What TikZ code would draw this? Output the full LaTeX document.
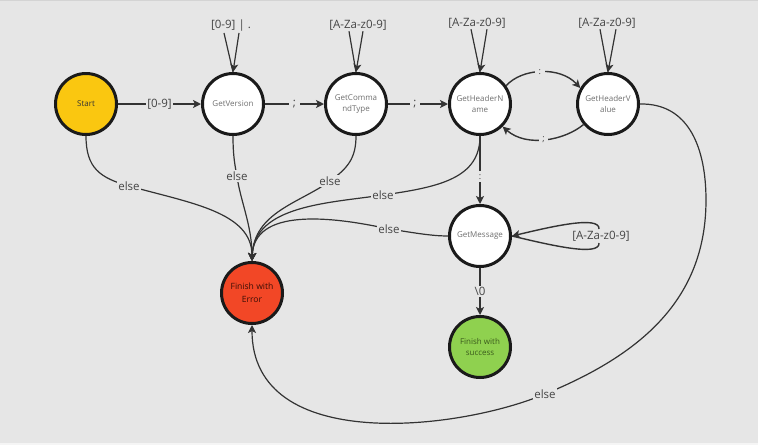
\documentclass[tikz,border=0pt]{standalone}
\usepackage{fontspec}
\setmainfont{Open Sans}
\usetikzlibrary{arrows.meta}
\definecolor{bg}{HTML}{E6E6E6}
\definecolor{edge}{HTML}{333333}
\definecolor{ring}{HTML}{1A1A1A}
\definecolor{yel}{HTML}{FAC710}
\definecolor{redf}{HTML}{F24726}
\definecolor{grn}{HTML}{8FD14F}
\definecolor{ntext}{HTML}{707070}
\definecolor{ltext}{HTML}{454545}
\definecolor{gtext}{HTML}{3A5A1C}
\definecolor{rtext}{HTML}{3A0E06}
\tikzset{
  state/.style={circle,draw=ring,line width=3pt,fill=white,minimum size=61pt,inner sep=0pt,
    align=center,font=\fontsize{8}{11.5}\selectfont,text=ntext},
  bigstate/.style={state,font=\fontsize{8.6}{12.5}\selectfont},
  lbl/.style={fill=bg,inner sep=1.5pt,font=\fontsize{11.5}{13}\selectfont,text=ltext},
  punct/.style={lbl,inner xsep=3.5pt,inner ysep=3pt},
  toplbl/.style={inner sep=1pt,font=\fontsize{11.5}{13}\selectfont,text=ltext},
  tip/.style={-{Stealth[length=8pt,width=8pt,inset=2pt]}},
  mainarr/.style={draw=edge,line width=1.7pt,tip},
  thin/.style={draw=edge,line width=1.2pt},
  thinarr/.style={thin,tip},
}
\begin{document}
\begin{tikzpicture}[x=1pt,y=-1pt]
\fill[bg] (0,0) rectangle (758,445);
\useasboundingbox (0,0) rectangle (758,445);
\fill[black!17] (0,0) rectangle (758,1.2);
\fill[black!4] (0,443) rectangle (758,445);

% states
\node[state,fill=yel,text=black!80] (start) at (86,104) {Start};
\node[state] (gv) at (233,104) {GetVersion};
\node[state] (gct) at (356,104) {GetComma\\ndType};
\node[state] (ghn) at (480,104) {GetHeaderN\\ame};
\node[state] (ghv) at (608,104) {GetHeaderV\\alue};
\node[state] (gm) at (480,236) {GetMessage};
\node[bigstate,fill=redf,text=rtext] (err) at (252,293) {Finish with\\Error};
\node[state,fill=grn,text=gtext] (succ) at (480,347) {Finish with\\success};

% self-loop labels at top
\node[toplbl] (lv) at (231,26) {[0-9] | .};
\node[toplbl] (lc) at (358,25) {[A-Za-z0-9]};
\node[toplbl] (ln) at (477,23) {[A-Za-z0-9]};
\node[toplbl] (lhv) at (607,23) {[A-Za-z0-9]};

\draw[thin] ([xshift=-7pt]lv.south) -- (gv.north);
\draw[thinarr] ([xshift=8pt]lv.south) -- (gv.north);
\draw[thin] ([xshift=-9pt]lc.south) -- (gct.north);
\draw[thinarr] ([xshift=5pt]lc.south) -- (gct.north);
\draw[thin] ([xshift=-6pt]ln.south) -- (ghn.north);
\draw[thinarr] ([xshift=10pt]ln.south) -- (ghn.north);
\draw[thin] ([xshift=-7pt]lhv.south) -- (ghv.north);
\draw[thinarr] ([xshift=9pt]lhv.south) -- (ghv.north);

% main transitions
\draw[mainarr] (start) -- node[lbl]{[0-9]} (gv);
\draw[mainarr] (gv) -- node[punct]{;} (gct);
\draw[mainarr] (gct) -- node[punct,pos=0.45]{;} (ghn);
\draw[mainarr] (ghn) -- node[punct,pos=0.6,font=\fontsize{9}{10}\selectfont]{:} (gm);
\draw[mainarr] (gm) -- node[lbl]{\textbackslash 0} (succ);

\draw[thinarr,line width=1.4pt] (ghn.35) .. controls (522,68) and (560,66) .. node[punct,pos=0.48,font=\fontsize{9}{10}\selectfont]{:} (ghv.150);
\draw[thinarr,line width=1.4pt] (ghv.220) .. controls (565,140) and (527,148) .. node[punct,pos=0.52,font=\fontsize{9}{10}\selectfont]{;} (ghn.-45);

% GetMessage self loop
\coordinate (lmb) at (599,243);
\coordinate (lmt) at (599,229);
\draw[thin,line width=1.4pt] (gm.east) .. controls (550,245) and (600,257) .. (lmb);
\draw[thinarr,line width=1.4pt] (lmt) .. controls (600,215) and (550,227) .. (gm.east);
\node[toplbl,fill=bg] (lm) at (601,236) {[A-Za-z0-9]};

% else transitions
\coordinate (e1) at (129,186);
\coordinate (e2) at (237,176);
\coordinate (e3) at (330,181);
\coordinate (e4) at (383,195);
\coordinate (e5) at (389,229);
\coordinate (e6) at (545,394);
\coordinate (gvr) at (706,200);

\draw[thinarr] (start.south) .. controls (86,168) and (100,178) .. (e1)
  .. controls (190,203) and (252,212) .. (err.north);
\draw[thinarr] (gv.south) .. controls (233,156) and (235,166) .. (e2)
  .. controls (240,200) and (252,225) .. (err.north);
\draw[thinarr] (gct.south) .. controls (356,158) and (348,168) .. (e3)
  .. controls (300,203) and (254,212) .. (err.north);
\draw[thinarr] (ghn.south) .. controls (480,178) and (440,187) .. (e4)
  .. controls (330,203) and (254,205) .. (err.north);
\draw[thinarr] (gm.west) .. controls (430,236) and (410,232) .. (e5)
  .. controls (330,216) and (254,208) .. (err.north);
\draw[thinarr] (ghv.east) .. controls (690,103) and (706,150) .. (gvr)
  .. controls (706,300) and (640,355) .. (e6)
  .. controls (460,430) and (252,455) .. (err.south);

\node[lbl] (le1) at (e1) {else};
\node[lbl] (le2) at (e2) {else};
\node[lbl] (le3) at (e3) {else};
\node[lbl] (le4) at (e4) {else};
\node[lbl] (le5) at (e5) {else};
\node[lbl] (le6) at (e6) {else};
\end{tikzpicture}
\end{document}
